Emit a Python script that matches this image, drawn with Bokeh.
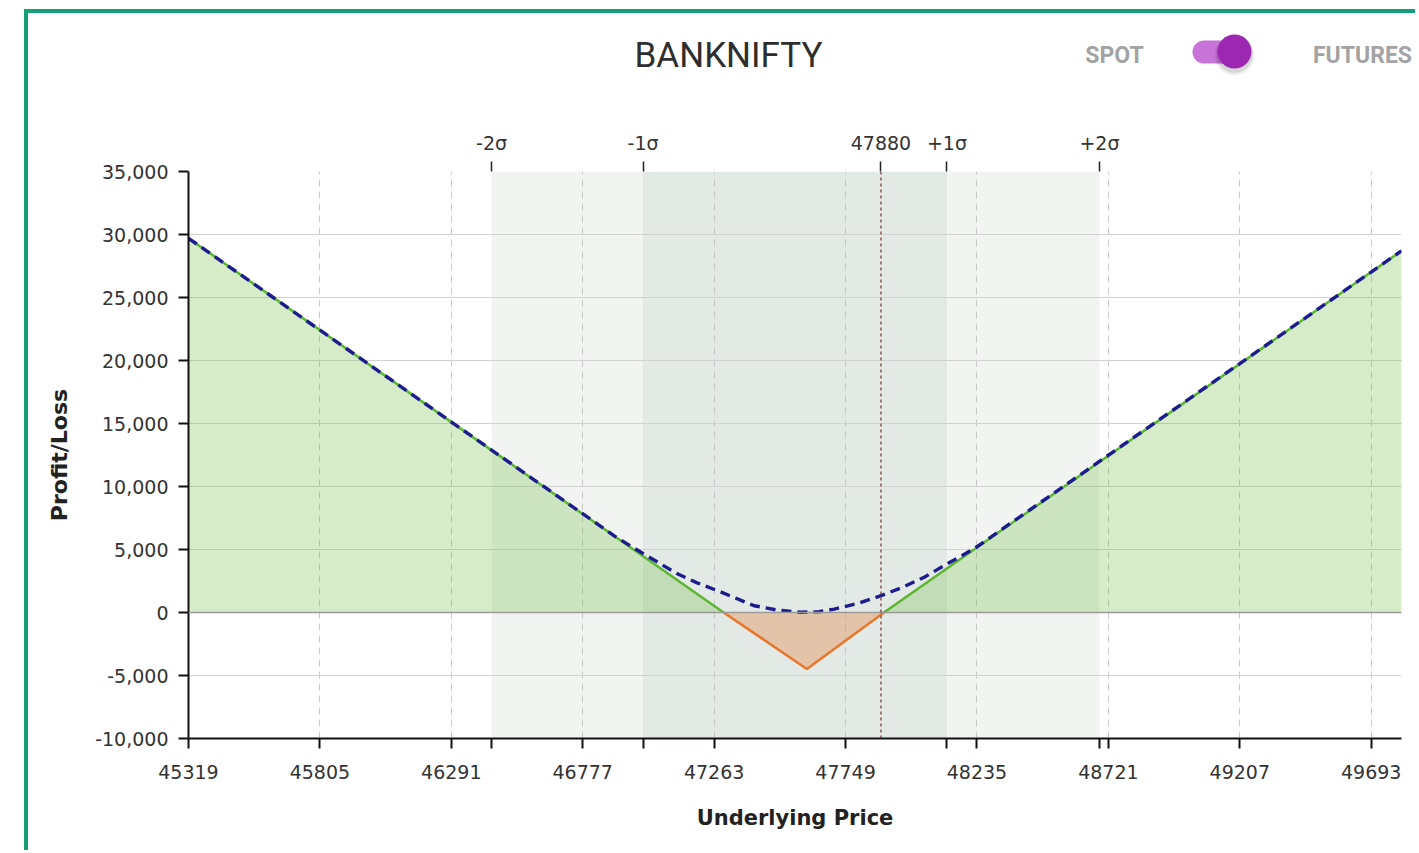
from bokeh.plotting import figure
from bokeh.layouts import column
from bokeh.models import (Range1d, FixedTicker, LinearAxis, NumeralTickFormatter,
                          BoxAnnotation, Span)
from bokeh.core.properties import value
from bokeh.embed import file_html
from bokeh.resources import INLINE

# ---------------- data ----------------
title_text = "BANKNIFTY"
toggle_left_text = "SPOT"
toggle_right_text = "FUTURES"
x_label = "Underlying Price"
y_label = "Profit/Loss"

x_ticks = [45319, 45805, 46291, 46777, 47263, 47749, 48235, 48721, 49207, 49693]
y_ticks = [-10000, -5000, 0, 5000, 10000, 15000, 20000, 25000, 30000, 35000]
x_min, x_max = 45319, 49805
y_min, y_max = -10000, 35000

spot_price = 47880
sigma_labels = ["-2σ", "-1σ", "+1σ", "+2σ"]
sigma_prices = [46440, 47000, 48124, 48688]

# payoff at expiry (piecewise linear)
expiry_x = [45319, 47298, 47606, 47891, 49805]
expiry_y = [29700, 0, -4480, 0, 28700]

# payoff today (T+0), dashed
t0_x = [45319, 46500, 46900, 46991, 47127, 47200, 47275, 47411, 47500, 47583,
        47650, 47707, 47800, 47880, 47960, 48040, 48120, 48225, 48471, 49805]
t0_y = [29700, 11990, 5990, 4800, 3070, 2350, 1736, 536, 180, 20,
        60, 270, 750, 1336, 2000, 2800, 3800, 5070, 8750, 28700]

# ---------------- layout constants ----------------
W = 1391
HDR_H = 87
MAIN_H = 754
BORDER = "4px solid #14a077"
TICK_FONT = "DejaVu Sans"

# ---------------- header strip ----------------
hdr = figure(width=W, height=HDR_H, output_backend="svg", toolbar_location=None,
             x_range=Range1d(0, W), y_range=Range1d(HDR_H, 0),
             min_border=0, min_border_left=0, min_border_right=0,
             min_border_top=0, min_border_bottom=0)
hdr.axis.visible = False
hdr.grid.visible = False
hdr.outline_line_color = None
hdr.background_fill_color = "white"
hdr.border_fill_color = "white"
hdr.styles = {"border-left": BORDER, "border-top": BORDER}

hdr.text(x=[700], y=[42], text=[title_text], text_font=value("Roboto"),
         text_font_size="35px", text_color="#2e2e2e",
         text_align="center", text_baseline="middle")
hdr.text(x=[1086, 1334], y=[42, 42], text=[toggle_left_text, toggle_right_text],
         text_font=value("Roboto"), text_font_size="23px", text_font_style="bold",
         text_color="#a3a3a3", text_align="center", text_baseline="middle")
# toggle track
hdr.line(x=[1175.5, 1205.5], y=[38.5, 38.5], line_width=23, line_cap="round",
         line_color="#c873d8")
# knob shadow
hdr.scatter(x=[1206], y=[42], size=40, fill_color="#000000", fill_alpha=0.06, line_color=None)
hdr.scatter(x=[1206], y=[41], size=37, fill_color="#000000", fill_alpha=0.10, line_color=None)
# knob
hdr.scatter(x=[1206], y=[38], size=34, fill_color="#9c27b0", line_color=None)

# ---------------- main chart ----------------
p = figure(width=W, height=MAIN_H, output_backend="svg", toolbar_location=None,
           x_range=Range1d(x_min, x_max), y_range=Range1d(y_min, y_max),
           min_border_left=160, min_border_right=18, min_border_top=75,
           min_border_bottom=112)
p.styles = {"border-left": BORDER}
p.outline_line_color = None
p.background_fill_color = "white"
p.border_fill_color = "white"

try:
    hdr.frame_align = False
    p.frame_align = False
except AttributeError:
    pass

# sigma bands
p.add_layout(BoxAnnotation(left=sigma_prices[0], right=sigma_prices[3],
                           fill_color="#f1f4f1", fill_alpha=1.0, line_color=None,
                           level="image"))
p.add_layout(BoxAnnotation(left=sigma_prices[1], right=sigma_prices[2],
                           fill_color="#e3e9e5", fill_alpha=1.0, line_color=None,
                           level="image"))

# axes
xa = p.xaxis[0]
xa.ticker = FixedTicker(ticks=x_ticks + sigma_prices)
xa.major_label_overrides = {s: "" for s in sigma_prices}
ya = p.yaxis[0]
ya.ticker = FixedTicker(ticks=y_ticks)
ya.formatter = NumeralTickFormatter(format="0,0")
for ax in (xa, ya):
    ax.axis_line_color = "#111111"
    ax.axis_line_width = 2
    ax.major_tick_line_color = "#111111"
    ax.major_tick_line_width = 2
    ax.major_tick_out = 10
    ax.major_tick_in = 0
    ax.minor_tick_line_color = None
    ax.major_label_text_font = TICK_FONT
    ax.major_label_text_font_size = "19px"
    ax.major_label_text_color = "#333333"
    ax.axis_label_text_font = TICK_FONT
    ax.axis_label_text_font_style = "bold"
    ax.axis_label_text_font_size = "21px"
    ax.axis_label_text_color = "#222222"
xa.axis_label = x_label
ya.axis_label = y_label
ya.axis_label_text_font_size = "22px"
xa.major_label_standoff = 16
xa.axis_label_standoff = 24
ya.major_label_standoff = 10
ya.axis_label_standoff = 20

top = LinearAxis(ticker=FixedTicker(ticks=[sigma_prices[0], sigma_prices[1], spot_price,
                                           sigma_prices[2], sigma_prices[3]]))
top.major_label_overrides = {sigma_prices[0]: sigma_labels[0], sigma_prices[1]: sigma_labels[1],
                             spot_price: str(spot_price),
                             sigma_prices[2]: sigma_labels[2], sigma_prices[3]: sigma_labels[3]}
top.axis_line_color = None
top.major_tick_line_color = "#222222"
top.major_tick_line_width = 1.5
top.major_tick_out = 10
top.major_tick_in = 0
top.minor_tick_line_color = None
top.major_label_standoff = 8
top.major_label_text_font = TICK_FONT
top.major_label_text_font_size = "19px"
top.major_label_text_color = "#333333"
p.add_layout(top, "above")

# grids
p.xgrid[0].ticker = FixedTicker(ticks=x_ticks)
p.xgrid[0].grid_line_color = "#c8c8c8"
p.xgrid[0].grid_line_dash = "7 5"
p.xgrid[0].grid_line_width = 1
p.ygrid[0].grid_line_color = "#d2d2d2"
p.ygrid[0].grid_line_width = 1

# zero line
p.add_layout(Span(location=0, dimension="width", line_color="#9a9a9a", line_width=1.5))

# fills
green_fill = "#76c04b"
orange_fill = "#e8792f"
p.varea(x=expiry_x[0:2], y1=[0, 0], y2=expiry_y[0:2], fill_color=green_fill, fill_alpha=0.3)
p.varea(x=expiry_x[1:4], y1=[0, 0, 0], y2=expiry_y[1:4], fill_color=orange_fill, fill_alpha=0.33)
p.varea(x=expiry_x[3:5], y1=[0, 0], y2=expiry_y[3:5], fill_color=green_fill, fill_alpha=0.3)

# spot price marker
p.add_layout(Span(location=spot_price, dimension="height", line_color="#7a3030",
                  line_width=1.2, line_dash="3 3"))

# lines
p.line(expiry_x[0:2], expiry_y[0:2], line_color="#5cb531", line_width=2.5)
p.line(expiry_x[1:4], expiry_y[1:4], line_color="#e8772e", line_width=2.5)
p.line(expiry_x[3:5], expiry_y[3:5], line_color="#5cb531", line_width=2.5)
p.line(t0_x, t0_y, line_color="#1c1c8e", line_width=3.4, line_dash="10 6")

layout = column(hdr, p, margin=(9, 0, 0, 24), spacing=0)
open("out.html", "w").write(file_html(layout, INLINE))
